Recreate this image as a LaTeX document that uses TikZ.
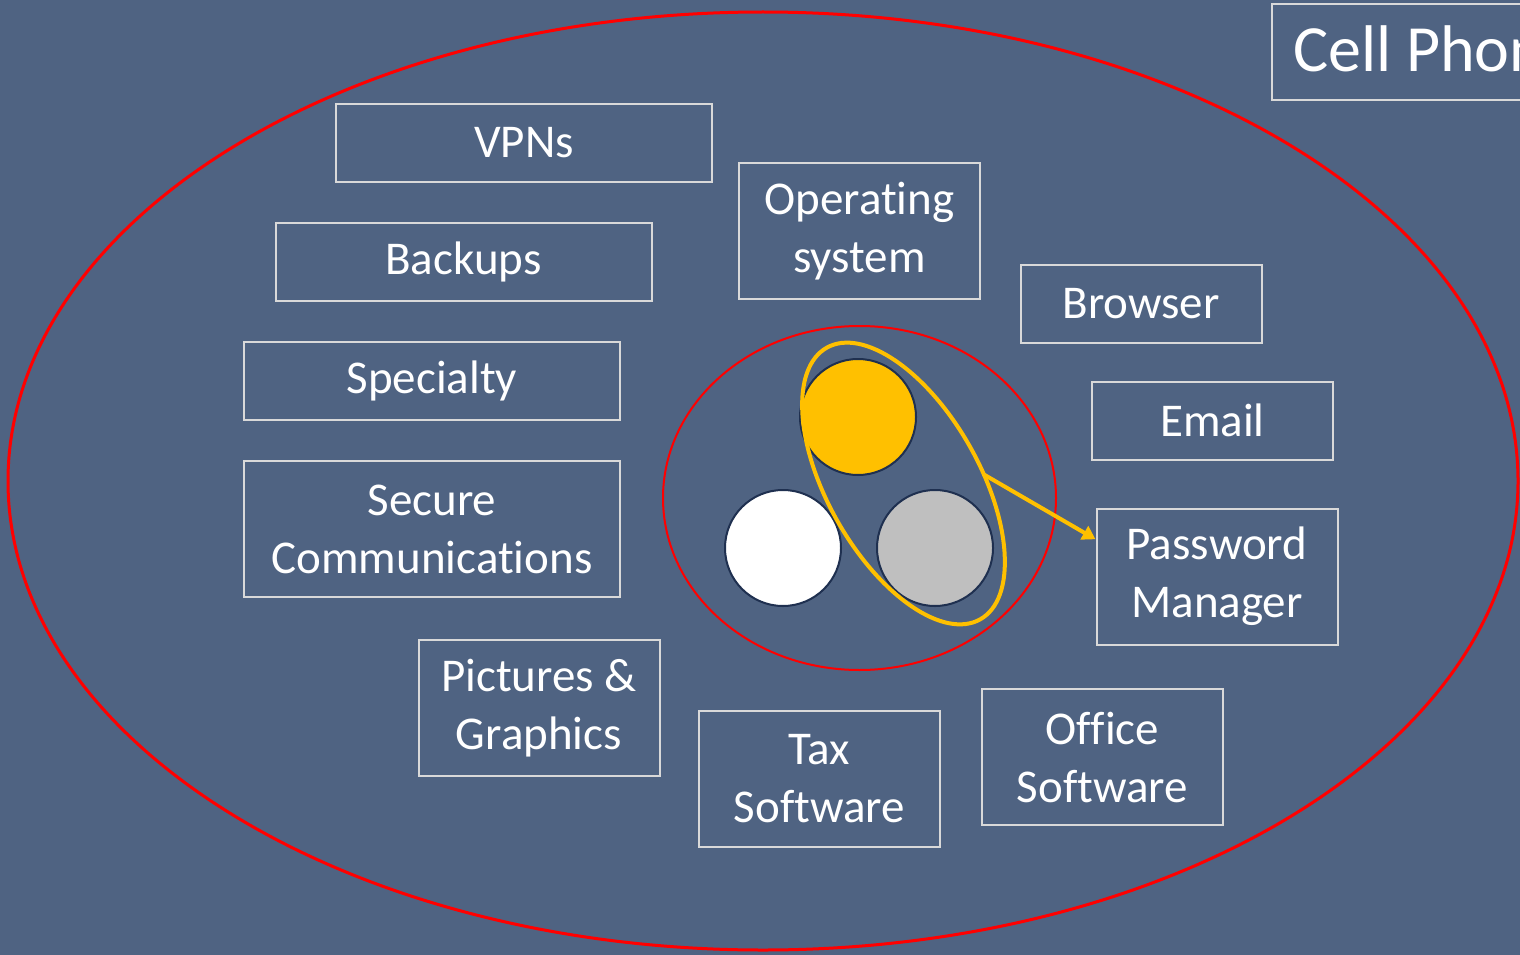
\documentclass[tikz,border=0pt]{standalone}
\usepackage{fontspec}
\setmainfont{Carlito}[Ligatures={NoCommon}]
\usepackage{tikz}
\usetikzlibrary{shapes.geometric, arrows.meta, positioning, calc}
\definecolor{slateBg}{HTML}{4F6382}
\definecolor{boxLine}{HTML}{D9D9D9}
\definecolor{ringRed}{HTML}{FF0000}
\definecolor{gold}{HTML}{FFC000}
\definecolor{navyRim}{HTML}{1F3050}
\definecolor{silver}{HTML}{BFBFBF}
\tikzset{
    appbox/.style={rectangle, draw=boxLine, line width=2pt, text=white, inner sep=0pt,
        minimum width=241pt, minimum height=78pt, align=center, font=\fontsize{47}{58}\selectfont},
    widebox/.style={appbox, minimum width=376pt},
    tallbox/.style={appbox, minimum height=136pt},
    ring/.style={ellipse, draw=ringRed, inner sep=0pt},
    coin/.style={circle, draw=navyRim, line width=2pt, minimum size=116pt, inner sep=0pt},
    pickarrow/.style={-{Triangle[length=13pt, width=15pt]}, line width=4pt, gold},
}

\begin{document}
\begin{tikzpicture}[x=1pt, y=-1pt]
    % Background
    \clip (0,0) rectangle (1520,955);
    \fill[slateBg] (0,0) rectangle (1520,955);

    % Title box, cut off at the right edge
    \node[appbox, anchor=north west, minimum height=96pt, inner xsep=21pt, text depth=7pt,
          font=\fontsize{66}{80}\selectfont] (title) at (1271,3) {Cell Phone};

    % Outer and inner rings
    \node[ring, line width=3pt, minimum width=1510pt, minimum height=938pt] (phone) at (763,481) {};
    \node[ring, line width=2pt, minimum width=393pt, minimum height=344pt] (core) at (859.5,498) {};

    % Application boxes
    \node[widebox] (vpn) at (524,143) {VPNs};
    \node[widebox] (backup) at (463.5,261.5) {Backups};
    \node[widebox] (special) at (432,381) {Specialty};
    \node[tallbox, minimum width=376pt] (secure) at (432,529) {Secure\\Communications};
    \node[tallbox] (pics) at (539,708) {Pictures \&\\Graphics};
    \node[tallbox] (tax) at (819.5,779) {Tax\\Software};
    \node[tallbox] (office) at (1102.5,757) {Office\\Software};
    \node[tallbox] (os) at (859.5,231) {Operating\\system};
    \node[appbox] (browser) at (1141,303.5) {Browser};
    \node[appbox] (email) at (1212.5,420.5) {Email};
    \node[tallbox] (pwm) at (1217,576.5) {Password\\Manager};

    % Three circles in the core
    \node[coin, fill=gold] (top) at (858,417) {};
    \node[coin, fill=white] (left) at (783,548) {};
    \node[coin, fill=silver] (right) at (935,548) {};

    % Highlight around two circles, pointing to the password manager
    \node[ellipse, draw=gold, line width=4pt, inner sep=0pt, minimum width=312pt, minimum height=152pt,
          rotate=-60.5] (pick) at (903.5,483.5) {};
    \coordinate (pickedge) at (983,474);
    \draw[pickarrow] (pickedge) -- ($(pwm.north west)!0.23!(pwm.south west)$);
\end{tikzpicture}
\end{document}
